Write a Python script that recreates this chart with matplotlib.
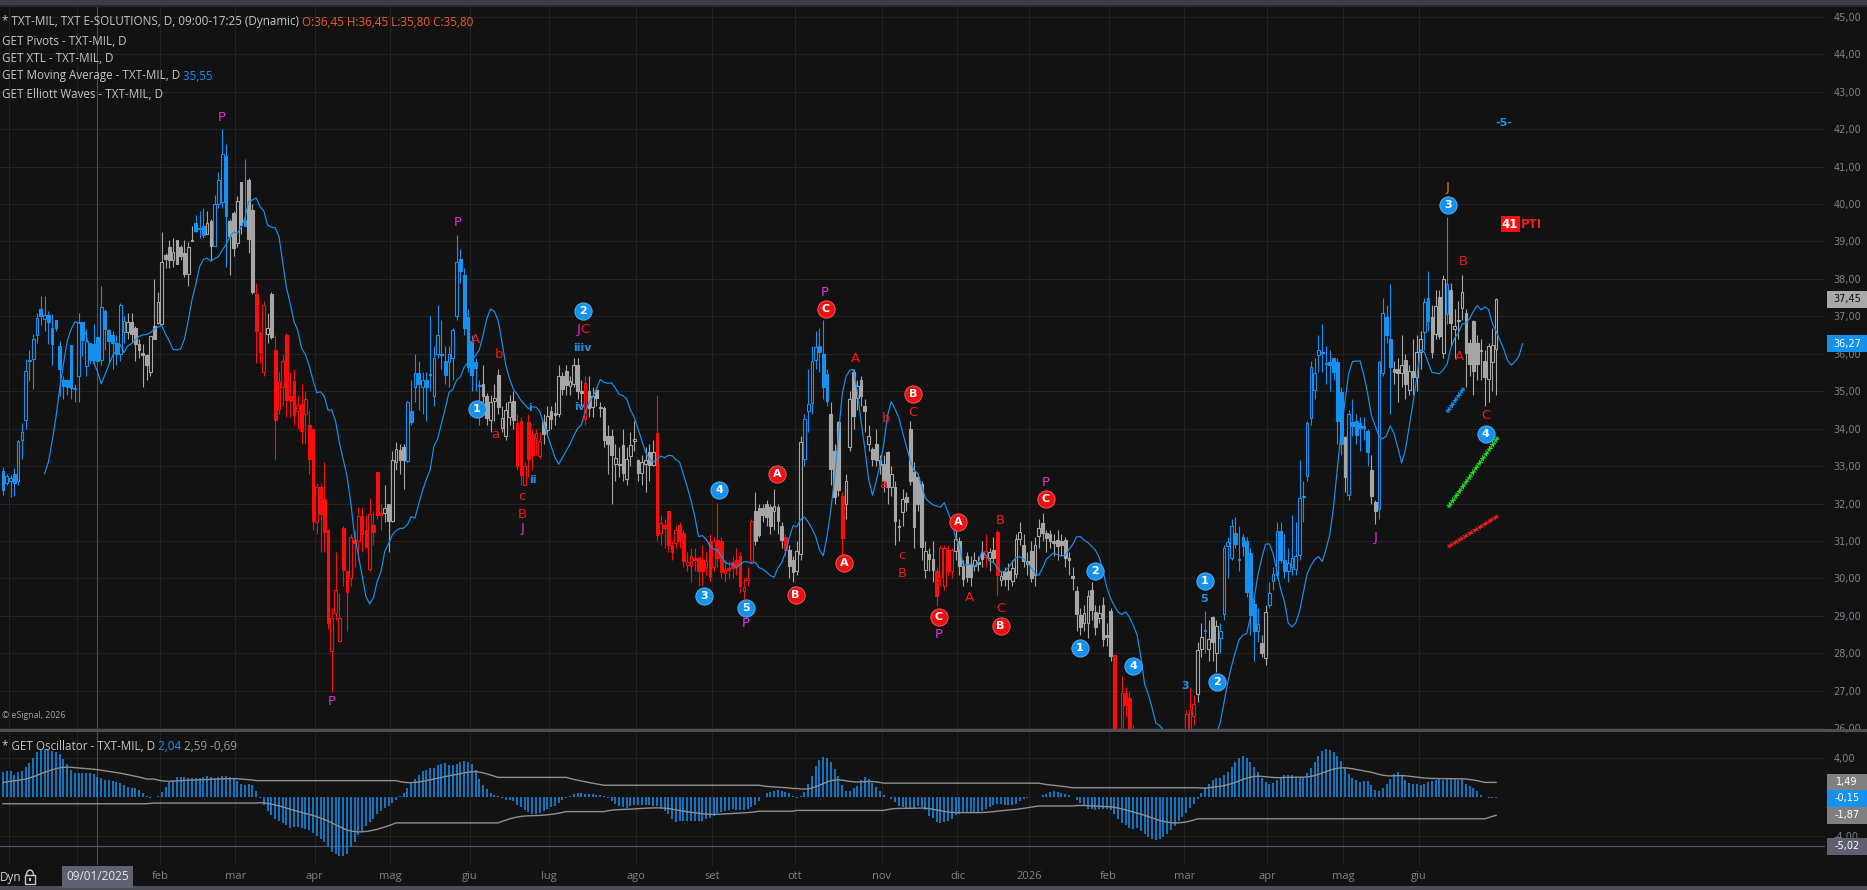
import numpy as np
import pandas as pd
import matplotlib
matplotlib.use("Agg")
import matplotlib.pyplot as plt
import matplotlib.patheffects as pe
from matplotlib.patches import Rectangle, Arc
from matplotlib.ticker import FuncFormatter, FixedLocator

plt.rcParams['font.family'] = ['Open Sans', 'DejaVu Sans']

# daily bars of TXT-MIL, starting 28/11/2024 (Borsa Italiana calendar)
opens = [
    32.87, 32.54, 32.60, 32.80, 32.60, 33.70, 34.22, 35.80, 35.85, 36.50,
    37.19, 36.94, 37.04, 36.70, 36.90, 36.20, 35.30, 35.30, 36.23, 35.05,
    35.40, 36.84, 35.68, 36.30, 36.25, 36.45, 35.83, 37.15, 36.63, 36.50,
    36.30, 36.00, 36.57, 36.57, 36.84, 36.70, 36.26, 36.00, 35.98, 35.50,
    36.73, 36.83, 36.80, 38.64, 38.85, 38.50, 39.03, 38.85, 38.68, 38.13,
    39.03, 39.50, 39.37, 39.40, 39.20, 39.55, 38.87, 40.00, 40.04, 41.29,
    39.55, 39.75, 38.97, 40.60, 39.57, 40.65, 39.85, 37.59, 36.58, 35.50,
    36.52, 37.59, 36.10, 34.53, 35.10, 36.50, 34.86, 35.26, 34.46, 34.65,
    34.39, 34.10, 34.00, 31.50, 32.43, 32.13, 31.29, 28.07, 29.07, 28.33,
    31.36, 30.20, 30.00, 31.03, 30.99, 31.68, 31.30, 30.25, 31.43, 32.85,
    31.74, 31.74, 31.98, 31.54, 33.12, 33.43, 33.52, 33.14, 34.46, 35.10,
    35.48, 35.10, 35.30, 35.45, 34.86, 36.00, 36.00, 35.80, 35.77, 35.90,
    37.00, 38.53, 38.10, 36.97, 36.33, 35.79, 35.15, 35.19, 34.86, 34.24,
    34.73, 35.42, 34.03, 33.80, 34.30, 34.73, 34.15, 34.20, 32.50, 34.19,
    33.86, 33.75, 33.26, 34.19, 33.97, 34.48, 34.42, 34.39, 35.40, 35.53,
    35.13, 35.19, 35.69, 35.00, 34.27, 35.00, 34.57, 35.04, 34.57, 34.55,
    33.80, 33.80, 33.05, 33.05, 33.57, 32.66, 33.26, 33.66, 33.17, 32.81,
    33.05, 33.39, 33.04, 33.88, 31.21, 31.43, 31.79, 30.90, 30.94, 31.43,
    31.21, 30.37, 30.32, 30.54, 30.54, 30.50, 30.30, 30.99, 30.30, 31.03,
    30.99, 30.15, 30.28, 30.45, 30.50, 30.59, 29.67, 29.97, 30.47, 31.79,
    31.88, 31.88, 31.99, 31.90, 31.79, 31.90, 31.41, 31.12, 30.76, 30.48,
    30.21, 30.64, 33.19, 34.48, 34.68, 35.84, 36.22, 36.00, 35.46, 34.39,
    33.41, 34.17, 32.21, 31.99, 33.52, 35.50, 34.82, 35.30, 34.60, 33.59,
    33.46, 33.60, 33.15, 33.06, 33.37, 32.43, 32.43, 31.41, 31.77, 32.17,
    33.99, 32.84, 32.70, 32.52, 30.23, 30.65, 30.52, 30.21, 30.05, 29.81,
    30.76, 30.21, 30.74, 31.00, 30.32, 30.61, 30.39, 30.32, 30.45, 30.70,
    30.56, 30.55, 30.76, 31.23, 29.96, 30.16, 30.21, 29.92, 30.12, 31.05,
    30.90, 30.46, 30.74, 30.10, 31.13, 31.48, 31.21, 31.19, 30.99, 31.04,
    31.00, 31.04, 30.55, 30.06, 29.66, 29.03, 28.81, 28.81, 29.70, 29.10,
    28.94, 29.30, 28.50, 29.14, 27.95, 25.80, 25.90, 26.94, 26.80, 25.90,
    25.50, 24.80, 24.20, 23.90, 24.00, 23.60, 23.80, 24.10, 24.40, 24.70,
    24.90, 25.20, 25.40, 25.90, 25.95, 26.32, 26.91, 28.12, 28.63, 28.12,
    28.96, 28.01, 28.41, 29.05, 30.86, 30.55, 31.21, 30.50, 31.10, 30.99,
    30.68, 29.32, 28.59, 28.28, 27.88, 29.28, 29.92, 30.10, 31.28, 30.50,
    30.20, 30.30, 30.26, 30.63, 32.20, 32.74, 34.28, 35.03, 35.97, 36.04,
    35.74, 35.77, 35.89, 35.77, 34.97, 33.77, 32.23, 34.17, 34.21, 34.14,
    34.08, 33.94, 32.90, 32.03, 31.85, 35.48, 36.99, 36.39, 35.59, 35.59,
    35.48, 35.83, 35.03, 35.55, 35.39, 36.04, 36.57, 37.49, 36.99, 36.53,
    37.51, 36.01, 37.06, 37.70, 36.66, 36.90, 37.22, 37.08, 36.28, 36.87,
    36.30, 36.07, 35.81, 35.32, 35.77, 36.13,
]
highs = [
    32.98, 32.80, 32.76, 32.95, 33.70, 34.15, 35.86, 36.10, 36.52, 37.10,
    37.53, 37.55, 37.13, 37.05, 36.90, 36.35, 35.40, 35.30, 36.23, 35.20,
    37.10, 36.84, 36.65, 36.30, 36.80, 36.45, 37.80, 37.20, 36.65, 36.60,
    36.50, 37.35, 37.00, 37.10, 37.10, 36.75, 36.40, 36.25, 36.00, 36.48,
    38.00, 37.65, 39.25, 38.70, 39.03, 39.10, 39.03, 38.90, 39.05, 38.98,
    39.40, 39.70, 39.80, 39.90, 39.80, 39.60, 40.25, 40.85, 42.00, 41.60,
    39.60, 39.80, 40.20, 40.60, 41.20, 40.70, 40.00, 37.89, 36.60, 37.40,
    37.10, 37.65, 36.50, 35.50, 36.00, 36.55, 35.50, 35.60, 34.90, 35.20,
    35.00, 34.50, 34.00, 32.55, 32.55, 33.10, 31.30, 29.20, 30.70, 29.60,
    31.40, 30.20, 31.20, 31.30, 31.90, 31.90, 31.70, 32.15, 31.80, 32.85,
    32.00, 32.50, 32.00, 33.40, 33.65, 33.60, 33.60, 34.75, 35.30, 36.00,
    35.80, 35.50, 35.50, 37.00, 36.20, 37.30, 36.90, 36.20, 36.20, 36.70,
    39.18, 38.80, 38.30, 37.20, 36.50, 35.90, 35.30, 35.70, 34.95, 34.90,
    35.20, 35.60, 34.60, 34.70, 34.90, 35.00, 34.40, 34.30, 33.10, 34.40,
    34.00, 34.00, 33.90, 34.40, 34.60, 34.60, 34.70, 35.70, 35.50, 35.70,
    35.40, 35.90, 35.90, 35.30, 35.40, 35.40, 35.10, 35.10, 34.70, 34.60,
    34.10, 34.00, 33.60, 33.50, 34.00, 33.50, 33.90, 34.20, 33.20, 33.30,
    33.50, 33.60, 33.70, 34.89, 31.70, 31.60, 31.80, 31.00, 31.40, 31.50,
    31.30, 30.70, 30.80, 30.80, 30.60, 30.90, 30.70, 31.20, 31.10, 32.01,
    31.10, 30.50, 30.50, 30.60, 30.80, 30.70, 30.00, 30.30, 31.60, 32.30,
    32.00, 32.00, 32.10, 32.00, 32.40, 32.00, 31.50, 31.20, 30.90, 30.60,
    31.00, 33.80, 34.40, 35.60, 36.20, 36.60, 36.70, 36.90, 35.60, 34.70,
    33.60, 34.20, 32.30, 32.80, 35.00, 35.60, 35.30, 35.40, 34.80, 34.10,
    33.50, 34.00, 33.30, 33.30, 33.40, 33.00, 32.60, 31.60, 32.40, 32.30,
    34.20, 33.10, 32.80, 32.60, 31.00, 30.80, 31.00, 30.30, 30.90, 30.90,
    30.90, 30.80, 31.30, 31.10, 30.50, 30.70, 30.60, 30.70, 30.60, 31.00,
    31.20, 30.80, 31.10, 31.30, 30.20, 30.30, 30.40, 30.50, 31.20, 31.50,
    31.20, 30.70, 31.00, 31.10, 31.60, 31.75, 31.30, 31.30, 31.20, 31.30,
    31.20, 31.10, 30.70, 30.30, 29.80, 29.20, 29.30, 29.70, 29.90, 29.30,
    29.30, 29.50, 28.80, 29.20, 27.95, 26.00, 27.40, 27.10, 27.00, 26.10,
    25.60, 25.00, 24.50, 24.30, 24.30, 24.00, 24.30, 24.60, 24.90, 25.20,
    25.40, 25.70, 25.90, 26.50, 27.09, 26.90, 28.30, 28.80, 29.12, 28.90,
    29.00, 28.90, 28.80, 30.90, 31.10, 31.60, 31.65, 31.40, 31.20, 31.10,
    30.80, 29.50, 29.20, 28.50, 29.30, 29.90, 30.30, 31.50, 31.50, 31.20,
    30.80, 31.70, 31.50, 33.15, 32.60, 34.20, 35.80, 35.90, 36.50, 36.80,
    36.20, 36.10, 35.90, 35.90, 35.10, 33.80, 34.50, 34.80, 34.40, 34.30,
    34.30, 34.00, 33.30, 32.10, 35.80, 37.50, 37.30, 37.86, 35.80, 35.90,
    36.50, 36.00, 35.70, 36.40, 36.50, 36.60, 37.50, 38.22, 37.30, 37.70,
    37.70, 38.10, 39.66, 37.90, 37.20, 37.40, 38.10, 37.20, 36.40, 36.90,
    36.50, 36.40, 36.10, 36.30, 36.70, 37.50,
]
lows = [
    32.23, 32.50, 32.18, 32.20, 32.50, 33.20, 34.00, 35.27, 35.05, 36.30,
    36.78, 36.60, 36.25, 35.70, 36.60, 34.86, 34.80, 34.90, 34.80, 34.70,
    34.70, 35.95, 35.40, 35.75, 35.70, 35.80, 35.70, 36.10, 35.75, 35.60,
    35.70, 35.80, 36.30, 36.40, 36.30, 35.80, 35.90, 35.10, 35.30, 35.40,
    36.40, 36.80, 36.80, 38.30, 38.30, 38.33, 38.40, 38.50, 38.05, 37.80,
    39.00, 39.25, 39.10, 39.10, 39.20, 38.50, 38.87, 39.90, 39.90, 38.32,
    38.10, 38.60, 38.85, 39.20, 39.40, 38.70, 37.60, 35.75, 35.75, 35.40,
    36.30, 36.40, 33.17, 34.40, 34.60, 34.30, 34.30, 34.10, 34.00, 33.60,
    33.60, 32.80, 31.30, 31.20, 30.70, 30.70, 28.65, 26.98, 28.90, 28.30,
    29.80, 28.60, 29.80, 30.30, 30.50, 30.70, 30.80, 30.20, 30.90, 31.60,
    31.30, 31.50, 30.70, 31.50, 32.90, 32.80, 32.40, 33.10, 34.10, 34.70,
    34.50, 34.40, 34.20, 35.00, 34.60, 35.90, 35.60, 35.20, 35.10, 35.30,
    36.90, 37.90, 36.50, 35.50, 35.00, 35.00, 34.10, 34.70, 34.10, 33.90,
    34.20, 34.40, 33.90, 33.70, 34.10, 34.00, 32.90, 32.50, 32.50, 32.70,
    32.90, 33.30, 33.20, 33.60, 33.80, 34.00, 34.10, 34.30, 34.90, 34.90,
    34.90, 35.10, 34.80, 34.60, 34.10, 34.30, 34.30, 34.60, 34.30, 33.50,
    32.80, 32.00, 32.60, 32.70, 32.60, 32.50, 33.00, 33.40, 32.60, 32.50,
    32.30, 32.60, 33.00, 31.00, 30.90, 30.80, 30.70, 30.50, 30.80, 30.80,
    30.30, 30.20, 29.90, 30.20, 29.80, 29.79, 30.10, 29.90, 30.20, 30.30,
    30.00, 29.90, 30.00, 30.00, 30.10, 29.60, 29.45, 29.80, 30.40, 30.90,
    31.10, 31.50, 31.40, 31.20, 31.30, 31.20, 30.80, 30.60, 30.00, 29.90,
    30.10, 30.50, 33.00, 33.90, 34.40, 35.60, 35.50, 34.80, 34.60, 32.50,
    32.00, 32.20, 30.60, 31.60, 33.40, 34.00, 34.50, 34.60, 33.90, 33.40,
    33.00, 33.00, 32.80, 32.30, 32.00, 32.20, 30.90, 31.00, 31.40, 31.80,
    32.50, 30.80, 31.80, 30.50, 30.00, 30.20, 29.90, 29.27, 29.80, 29.70,
    30.10, 30.00, 30.50, 30.10, 29.80, 29.90, 29.80, 30.20, 30.20, 30.30,
    30.30, 30.20, 30.40, 29.54, 29.80, 29.80, 29.70, 29.80, 30.00, 30.90,
    30.30, 30.10, 29.90, 29.80, 30.80, 31.00, 30.70, 30.80, 30.60, 30.50,
    30.60, 30.30, 30.10, 29.70, 28.60, 28.50, 28.60, 28.40, 28.90, 28.50,
    28.80, 28.20, 28.20, 27.80, 25.50, 25.00, 25.60, 26.30, 25.60, 25.20,
    24.60, 24.00, 23.60, 23.40, 23.30, 23.20, 23.50, 23.80, 24.10, 24.40,
    24.60, 24.90, 25.10, 25.70, 25.80, 26.10, 26.70, 27.90, 28.00, 27.80,
    27.80, 27.50, 28.00, 28.90, 30.00, 30.50, 30.80, 30.20, 30.60, 29.50,
    28.50, 27.80, 28.30, 27.90, 27.70, 29.20, 29.70, 30.00, 30.40, 30.00,
    29.90, 30.10, 30.10, 30.50, 31.50, 32.60, 34.10, 34.80, 35.50, 35.50,
    35.20, 35.00, 35.30, 33.60, 33.30, 32.30, 32.10, 33.80, 33.60, 33.40,
    33.70, 33.00, 32.00, 31.45, 31.60, 35.40, 36.30, 34.40, 35.20, 34.70,
    35.10, 34.80, 34.90, 34.90, 35.00, 35.60, 36.10, 36.60, 35.90, 36.40,
    36.40, 35.90, 36.80, 36.20, 35.90, 36.40, 36.90, 35.10, 35.40, 34.90,
    35.30, 35.30, 34.60, 34.70, 35.00, 34.90,
]
closes = [
    32.36, 32.73, 32.68, 32.54, 33.67, 33.90, 35.54, 35.83, 36.40, 36.96,
    37.00, 37.04, 36.86, 36.26, 36.70, 35.60, 35.13, 35.10, 35.08, 35.08,
    36.86, 36.36, 36.35, 35.83, 35.83, 35.80, 37.24, 36.65, 36.35, 36.28,
    36.00, 37.30, 36.88, 36.84, 36.52, 36.26, 36.10, 35.98, 35.70, 36.47,
    36.40, 37.38, 38.44, 38.53, 38.50, 38.73, 38.40, 38.60, 38.13, 38.84,
    39.00, 39.27, 39.33, 39.17, 39.48, 38.87, 40.00, 40.64, 41.33, 39.69,
    39.15, 38.82, 40.08, 39.44, 39.42, 39.06, 37.66, 36.60, 36.06, 37.29,
    36.68, 36.46, 34.24, 35.24, 35.80, 34.77, 34.75, 34.37, 34.63, 33.94,
    34.80, 33.20, 31.54, 32.43, 31.72, 31.25, 28.80, 28.94, 29.68, 28.94,
    30.23, 29.65, 31.12, 30.96, 31.68, 31.20, 30.84, 31.72, 31.25, 31.70,
    31.70, 31.88, 31.54, 33.17, 33.46, 33.17, 33.17, 34.70, 34.17, 35.48,
    35.20, 35.30, 35.10, 35.42, 35.88, 36.50, 35.97, 35.42, 35.99, 36.64,
    38.45, 38.20, 36.70, 35.66, 35.42, 35.62, 35.13, 34.86, 34.28, 34.70,
    34.83, 34.58, 34.28, 34.50, 34.70, 34.24, 32.99, 32.77, 32.99, 33.20,
    33.30, 33.88, 33.68, 33.86, 34.33, 34.27, 34.37, 35.40, 35.07, 35.16,
    35.26, 35.69, 35.00, 34.95, 35.22, 34.55, 34.86, 34.82, 34.55, 33.70,
    33.59, 33.30, 33.23, 33.03, 32.81, 33.20, 33.57, 33.73, 32.81, 33.12,
    33.17, 33.04, 33.39, 31.17, 31.48, 31.35, 30.90, 30.70, 31.30, 30.99,
    30.47, 30.45, 30.59, 30.50, 30.19, 30.19, 30.46, 30.05, 31.00, 30.54,
    30.17, 30.23, 30.23, 30.28, 30.32, 29.79, 29.76, 30.01, 31.54, 31.00,
    31.17, 31.70, 31.63, 31.41, 31.94, 31.53, 31.03, 30.76, 30.34, 30.16,
    30.74, 33.64, 34.26, 34.66, 35.80, 36.19, 36.04, 35.11, 34.75, 32.92,
    32.17, 32.35, 31.08, 32.60, 34.79, 34.34, 35.15, 34.86, 34.46, 33.80,
    33.19, 33.15, 33.04, 32.61, 32.43, 32.79, 31.53, 31.37, 32.12, 32.03,
    32.61, 31.37, 31.99, 30.83, 30.74, 30.52, 30.23, 29.54, 30.81, 30.81,
    30.21, 30.76, 31.05, 30.32, 29.99, 30.05, 30.03, 30.48, 30.39, 30.52,
    30.72, 30.71, 30.55, 30.10, 30.07, 29.99, 29.99, 30.27, 31.05, 31.25,
    30.46, 30.39, 30.01, 30.90, 31.35, 31.21, 31.08, 31.01, 30.95, 30.86,
    30.90, 30.55, 30.50, 30.01, 29.05, 28.70, 29.08, 29.52, 29.17, 28.70,
    29.08, 28.37, 28.43, 27.92, 25.80, 25.40, 26.94, 26.63, 25.90, 25.50,
    24.80, 24.20, 23.90, 24.00, 23.60, 23.80, 24.10, 24.40, 24.70, 24.90,
    25.20, 25.40, 25.80, 26.38, 26.50, 26.65, 28.10, 28.43, 28.60, 28.39,
    28.30, 28.72, 28.61, 30.81, 30.97, 31.39, 30.92, 30.48, 30.86, 29.64,
    29.03, 28.59, 28.78, 28.01, 29.10, 29.61, 30.12, 31.28, 30.50, 30.20,
    30.40, 30.55, 30.60, 32.15, 32.18, 34.15, 35.65, 35.48, 36.10, 36.01,
    35.72, 35.71, 35.50, 34.21, 33.60, 32.72, 34.39, 34.08, 33.84, 34.03,
    34.03, 33.37, 32.21, 31.80, 35.77, 37.08, 36.51, 35.65, 35.50, 35.48,
    35.71, 35.19, 35.55, 35.39, 36.04, 36.39, 37.37, 36.88, 36.06, 37.28,
    36.48, 38.00, 37.85, 36.81, 36.73, 36.88, 37.64, 36.01, 35.73, 35.55,
    35.73, 36.10, 35.37, 36.20, 36.23, 37.45,
]
# trend colour of each bar: b = blue, r = red, g = gray
color_runs = [('b', 33), ('g', 18), ('b', 3), ('g', 2), ('b', 4), ('g', 4), ('b', 1),
              ('g', 2), ('r', 3), ('g', 2), ('r', 29), ('g', 6), ('b', 20), ('g', 9),
              ('r', 7), ('g', 11), ('r', 1), ('g', 18), ('r', 26), ('g', 8), ('r', 1),
              ('g', 4), ('b', 7), ('g', 3), ('r', 1), ('g', 24), ('r', 5), ('g', 8),
              ('r', 1), ('g', 2), ('r', 1), ('g', 30), ('r', 22), ('g', 2), ('b', 1),
              ('g', 3), ('b', 11), ('g', 2), ('b', 20), ('g', 1), ('b', 6), ('g', 2),
              ('b', 4), ('g', 8), ('b', 2), ('g', 4), ('b', 1), ('g', 13)]
# oscillator for the bars before 35 bars of history exist
osc_head = [2.59, 2.70, 2.60, 2.24, 2.50, 2.70, 3.10, 3.50, 4.00, 4.60,
            4.80, 4.86, 4.80, 4.65, 4.60, 4.40, 3.84, 3.33, 2.80, 2.41,
            2.41, 2.41, 2.41, 2.41, 2.30, 2.04, 1.90, 1.73, 1.73, 1.60,
            1.56, 1.39, 1.22, 1.05]

holidays = ['2024-12-24', '2024-12-25', '2024-12-26', '2024-12-31', '2025-01-01',
            '2025-04-18', '2025-04-21', '2025-05-01', '2025-08-15', '2025-12-24',
            '2025-12-25', '2025-12-26', '2025-12-31', '2026-01-01', '2026-04-03',
            '2026-04-06', '2026-05-01']
mesi = ['gen', 'feb', 'mar', 'apr', 'mag', 'giu', 'lug', 'ago', 'set', 'ott', 'nov', 'dic']

# Elliott wave labels (bar, price)
blue_circles = ['1', '2', '4', '3', '5', '2', '1', '4', '1', '2', '3', '4']
blue_circles_x = [125.3, 153.4, 189.5, 185.5, 196.6, 289.0, 284.9, 299.0, 318.0, 321.1, 382.2, 392.3]
blue_circles_y = [34.52, 37.14, 32.36, 29.53, 29.22, 30.20, 28.13, 27.66, 29.94, 27.23, 39.97, 33.85]
red_circles = ['A', 'B', 'C', 'A', 'B', 'C', 'A', 'B', 'C']
red_circles_x = [204.7, 209.7, 217.6, 222.6, 240.7, 247.6, 252.7, 263.9, 275.8]
red_circles_y = [32.79, 29.55, 37.19, 30.40, 34.92, 28.96, 31.50, 28.73, 32.11]
red_letters = ['A', 'b', 'a', 'c', 'B', 'C', 'A', 'b', 'a', 'C', 'c', 'B', 'A', 'B', 'C', 'B', 'A', 'C']
red_letters_x = [125.1, 131.3, 130.3, 137.4, 137.4, 154.0, 225.6, 233.6, 232.9, 240.7, 237.8, 237.8,
                 255.7, 263.9, 263.9, 386.2, 385.3, 392.3]
red_letters_y = [36.39, 35.99, 33.85, 32.18, 31.72, 36.65, 35.88, 34.27, 32.52, 34.43, 30.60, 30.13,
                 29.49, 31.56, 29.20, 38.47, 35.92, 34.36]
pivot_letters = ['P', 'P', 'P', 'J', 'J', 'P', 'P', 'P', 'P', 'J']
pivot_x = [57.9, 87.1, 120.2, 137.4, 152.3, 196.4, 217.5, 247.6, 275.8, 363.0]
pivot_y = [42.31, 26.72, 39.51, 31.34, 36.65, 28.80, 37.64, 28.51, 32.55, 31.10]
minor_labels = ['i', 'ii', 'iiiv', 'iv', '3', '5', '-5-']
minor_x = [139.3, 140.3, 153.3, 152.5, 312.7, 317.7, 397.1]
minor_y = [34.54, 32.64, 36.16, 34.58, 27.12, 29.45, 42.17]
top_j_x, top_j_y = 382.2, 40.44
pti_x, pti_y = 398.7, 39.46
# target projections
proj_blue_x, proj_blue_y = [382.0, 386.5], [34.44, 35.08]
proj_green_x, proj_green_y = [382.3, 395.5], [31.90, 33.77]
proj_red_x, proj_red_y = [382.3, 395.5], [30.84, 31.67]

crosshair_bar = 25
crosshair_osc = -5.02

W, H = 1867, 890
BG = '#121212'
GRID = '#222222'
BLUE = '#1591f0'
RED = '#ff0d0d'
GRAY = '#a6a6a6'
AXTXT = '#7b808c'

opens, highs, lows, closes = map(np.array, (opens, highs, lows, closes))
n = len(closes)
x = np.arange(n)
codes = ''.join(c * k for c, k in color_runs)
cmap = {'b': BLUE, 'r': RED, 'g': GRAY}
cols = [cmap[c] for c in codes]

dates = pd.bdate_range('2024-11-28', periods=n, freq='C', holidays=holidays)
per = dates.to_period('M')
mstart = np.flatnonzero(np.r_[True, per[1:] != per[:-1]])[1:]
grid_x = mstart - 0.5
tick_lab = [str(dates[i].year) if dates[i].month == 1 else mesi[dates[i].month - 1] for i in mstart]

ma = pd.Series(closes).rolling(5).mean().to_numpy()
med = pd.Series((highs + lows) / 2)
osc = (med.rolling(5).mean() - med.rolling(35).mean()).to_numpy()
osc[:len(osc_head)] = osc_head
upper = np.empty(n)
lower = np.empty(n)
u, l = 1.40, -0.69
for i, v in enumerate(osc):
    if v > 0:
        u += 0.06 * (v - u)
    elif v < 0:
        l += 0.06 * (v - l)
    upper[i], lower[i] = u, l

fig = plt.figure(figsize=(W / 100, H / 100), dpi=100, facecolor=BG)
ax = fig.add_axes([0, (H - 729) / H, 1825 / W, 722 / H])
ax2 = fig.add_axes([0, (H - 865) / H, 1825 / W, 133 / H])
fmt = FuncFormatter(lambda v, p: f'{v:.2f}'.replace('.', ','))
for a in (ax, ax2):
    a.set_facecolor(BG)
    for s in a.spines.values():
        s.set_visible(False)
    a.set_xlim(-0.79, 482.0)
    a.yaxis.tick_right()
    a.yaxis.set_major_formatter(fmt)
    a.tick_params(axis='y', length=0, pad=6, labelsize=7, labelcolor=AXTXT)
    for g in grid_x:
        a.axvline(g, color=GRID, lw=0.8, zorder=0)
    a.axvline(crosshair_bar, color='#4a4e59', lw=0.8, zorder=1)

ax.set_ylim(25.98, 45.26)
ax.yaxis.set_major_locator(FixedLocator(np.arange(26, 46)))
for t in ax.yaxis.get_ticklabels():
    t.set_family('DejaVu Sans')
ax.grid(axis='y', color=GRID, lw=0.8)
ax.set_axisbelow(True)
ax.set_xticks([])

# candles
ax.vlines(x, lows, highs, colors=cols, lw=0.8, zorder=3)
up = closes >= opens
face = [BG if f else c for f, c in zip(up, cols)]
ax.bar(x, np.maximum(np.abs(closes - opens), 0.03), bottom=np.minimum(opens, closes),
       width=0.72, color=face, edgecolor=cols, linewidth=0.8, zorder=4)
ax.plot(x + 7, ma, color=BLUE, lw=0.85, zorder=5)

def ticked(c):
    return [pe.Normal()] + [pe.TickedStroke(spacing=4, angle=a, length=0.45, linewidth=0.8)
                            for a in (45, -135, 135, -45)]

for xs, ys, c in ((proj_blue_x, proj_blue_y, BLUE), (proj_green_x, proj_green_y, '#22e022'),
                  (proj_red_x, proj_red_y, '#ee2020')):
    ax.plot(xs, ys, color=c, lw=0.9, zorder=5, path_effects=ticked(c))

lab = dict(family='DejaVu Sans', ha='center', va='center', zorder=8)
ax.scatter(blue_circles_x, blue_circles_y, s=155, color=BLUE, edgecolors='#5db5f5', linewidths=0.6, zorder=7)
for t, xx, yy in zip(blue_circles, blue_circles_x, blue_circles_y):
    ax.text(xx, yy, t, color='white', fontsize=8, fontweight='bold', **lab)
ax.scatter(red_circles_x, red_circles_y, s=155, color='#ee1010', edgecolors='#ff6060', linewidths=0.6, zorder=7)
for t, xx, yy in zip(red_circles, red_circles_x, red_circles_y):
    ax.text(xx, yy, t, color='white', fontsize=8, fontweight='bold', **lab)
for t, xx, yy in zip(red_letters, red_letters_x, red_letters_y):
    ax.text(xx, yy, t, color='#f01818', fontsize=9.5, **lab)
for t, xx, yy in zip(pivot_letters, pivot_x, pivot_y):
    ax.text(xx, yy, t, color='#e02ee0', fontsize=9.5, **lab)
for t, xx, yy in zip(minor_labels, minor_x, minor_y):
    ax.text(xx, yy, t, color='#1e8fe8', fontsize=8, fontweight='bold', **lab)
ax.text(top_j_x, top_j_y, 'J', color='#e4733e', fontsize=9.5, **lab)
t41 = ax.text(pti_x, pti_y, '41', color='white', fontsize=8.5, fontweight='bold',
              bbox=dict(boxstyle='square,pad=0.12', fc='#ff1010', ec='none'), **lab)
ax.annotate('PTI', xy=(1, 0.5), xycoords=t41, xytext=(1.5, 0), textcoords='offset points',
            color='#ff1a1a', fontsize=8.5, fontweight='bold', family='DejaVu Sans',
            ha='left', va='center', zorder=8)

# oscillator panel
ax2.set_ylim(-6.94, 6.63)
ax2.yaxis.set_major_locator(FixedLocator([-4, 4]))
for t in ax2.yaxis.get_ticklabels():
    t.set_family('DejaVu Sans')
ax2.grid(axis='y', color=GRID, lw=0.8)
ax2.set_axisbelow(True)
ax2.vlines(x, 0, osc, color=BLUE, lw=1.1, zorder=3)
ax2.plot(x, upper, color='#8e8e8e', lw=1.0, zorder=4)
ax2.plot(x, lower, color='#8e8e8e', lw=1.0, zorder=4)
ax2.axhline(crosshair_osc, color='#50535d', lw=0.9, zorder=2)
ax2.set_xticks(mstart - 0.5)
ax2.set_xticklabels(tick_lab)
for i, t in enumerate(ax2.xaxis.get_ticklabels()):
    # first months sit under the "Dyn" mark and the cursor date box
    if abs(mstart[i] - crosshair_bar) < 12 or mstart[i] < 10:
        t.set_visible(False)
ax2.tick_params(axis='x', length=0, pad=4.5, labelsize=8, labelcolor=AXTXT)

# overlay in pixel coordinates for the window chrome
ov = fig.add_axes([0, 0, 1, 1])
ov.set_xlim(0, W)
ov.set_ylim(H, 0)
ov.axis('off')
ov.set_zorder(10)
ov.patch.set_visible(False)
ov.add_patch(Rectangle((0, 0), W, 5, color='#3b3e4a', lw=0))
ov.add_patch(Rectangle((0, 5), W, 1.5, color='#26282f', lw=0))
ov.add_patch(Rectangle((0, 728.5), W, 3.5, color='#4c4f5a', lw=0))
ov.add_patch(Rectangle((0, 886), W, 4, color='#4c4f5a', lw=0))

def py(a, v):
    return H - a.transData.transform((0, v))[1]

def value_box(a, v, fc, tc):
    y = py(a, v)
    ov.add_patch(Rectangle((1826.5, y - 8.5), 40.5, 17, color=fc, lw=0))
    ov.text(1847, y, f'{v:.2f}'.replace('.', ','), color=tc, fontsize=7, family='DejaVu Sans',
            ha='center', va='center')

value_box(ax, closes[-1], '#a9a9a9', '#111111')
value_box(ax, ma[-1], BLUE, 'white')
value_box(ax2, upper[-1], '#808080', 'white')
value_box(ax2, lower[-1], '#808080', 'white')
value_box(ax2, osc[-1], BLUE, 'white')
value_box(ax2, crosshair_osc, '#5c6070', 'white')

LEG = '#c4c4c4'
leg = dict(fontsize=8.4, va='center', ha='left')
t1 = ov.text(2, 22, '* TXT-MIL, TXT E-SOLUTIONS, D, 09:00-17:25 (Dynamic)', color=LEG, **leg)
ov.annotate(' O:36,45 H:36,45 L:35,80 C:35,80', xy=(1, 0.5), xycoords=t1, color='#ee5a2c', **leg)
ov.text(2, 41.5, 'GET Pivots - TXT-MIL, D', color=LEG, **leg)
ov.text(2, 59, 'GET XTL - TXT-MIL, D', color=LEG, **leg)
t4 = ov.text(2, 76, 'GET Moving Average - TXT-MIL, D', color=LEG, **leg)
ov.annotate(' 35,55', xy=(1, 0.5), xycoords=t4, color=BLUE, **leg)
ov.text(2, 95, 'GET Elliott Waves - TXT-MIL, D', color=LEG, **leg)
ov.text(2, 716, '\u00a9 eSignal, 2026', color='#a0a0a0', fontsize=6.3, va='center', ha='left')
t6 = ov.text(2, 747, '* GET Oscillator - TXT-MIL, D', color=LEG, **leg)
t7 = ov.annotate(' 2,04', xy=(1, 0.5), xycoords=t6, color=BLUE, **leg)
ov.annotate(' 2,59 -0,69', xy=(1, 0.5), xycoords=t7, color='#9a9a9a', **leg)

# time axis: cursor date and lock
cx = ax2.transData.transform((crosshair_bar, 0))[0]
ov.text(cx, 877, '09/01/2025', color='#e6e6e6', fontsize=8.5, ha='center', va='center',
        bbox=dict(boxstyle='square,pad=0.38', fc='#5d6171', ec='none'))
ov.text(0, 877, 'Dyn', color='#d0d0d0', fontsize=8.5, ha='left', va='center')
ov.add_patch(Rectangle((25, 875), 10, 9, fill=False, ec='#c8c8c8', lw=1))
ov.add_patch(Arc((30, 875), 7, 10, theta1=180, theta2=360, ec='#c8c8c8', lw=1))
ov.add_patch(Rectangle((29.3, 878), 1.4, 3, color='#c8c8c8', lw=0))

fig.savefig('out.png', dpi=100, facecolor=BG)
